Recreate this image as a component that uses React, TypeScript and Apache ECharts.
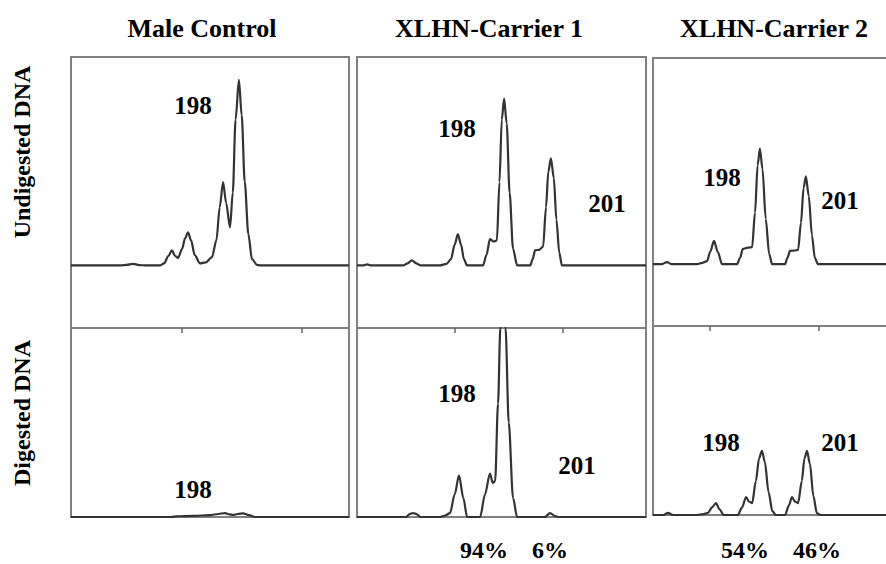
import React, { useEffect, useRef } from "react";
import * as echarts from "echarts";

// Column titles and row labels
const columnTitles = ["Male Control", "XLHN-Carrier 1", "XLHN-Carrier 2"];
const rowLabels = ["Undigested DNA", "Digested DNA"];

// Electropherogram traces: [scan position (0-100), signal (0-100 of panel height)]
const maleUndigested: number[][] = [
  [0, 0], [18, 0], [20, 0.3], [22.3, 0.8], [24.5, 0.2], [27, 0], [32, 0], [33.5, 1], [35, 4.5], [36.3, 7.2],
  [37.5, 4.5], [38.5, 3.6], [40, 8], [41, 13], [42.1, 15.9], [43.2, 12], [44.5, 5], [46.4, 1], [48.5, 1.5],
  [50.7, 4], [52.3, 12], [53.5, 28], [54.7, 40], [55.8, 30], [57.2, 18.3], [58.2, 35], [59.2, 70], [60.4, 89],
  [61.4, 72], [62.5, 40], [63.8, 15], [65.1, 3], [66.9, 0.3], [68, 0], [100, 0],
];
const carrier1Undigested: number[][] = [
  [0, 0], [2, 0], [3.5, 0.5], [5, 0], [16, 0], [17.5, 1], [19, 2.4], [20.5, 1], [22, 0], [28.7, 0], [31, 0.8],
  [32.5, 3], [33.8, 10], [34.9, 15], [36, 10], [37, 3], [38.1, 0], [43.6, 0], [44.8, 5], [46, 12.6], [47.3, 11.5],
  [48.4, 12], [49.3, 40], [50.1, 70], [50.9, 80], [51.8, 68], [52.8, 35], [54, 8], [55.4, 0], [59.9, 0], [60.8, 3],
  [61.6, 7.3], [63, 7.5], [64.4, 9], [65.4, 28], [66.2, 45], [67.1, 51.4], [68.1, 42], [69, 22], [70, 6], [70.9, 0],
  [100, 0],
];
const carrier2Undigested: number[][] = [
  [0, 0], [3, 0], [4.8, 1], [6.5, 0], [15.2, 0], [17, 0.6], [18.7, 1.5], [19.8, 6], [21.1, 11.3], [22.4, 6],
  [23.9, 0], [29.1, 0], [30.1, 3], [31.1, 7.4], [32.8, 8], [34.3, 8.3], [35.3, 25], [36.2, 48], [37, 56],
  [37.9, 46], [39, 22], [40.2, 5], [41.2, 0], [45.7, 0], [46.5, 3], [47.4, 6.4], [48.8, 6.6], [50.2, 6.9],
  [51.2, 20], [52.1, 37], [52.9, 42.6], [53.9, 33], [55, 14], [56, 3], [57.1, 0], [100, 0],
];
const maleDigested: number[][] = [
  [0, 0], [36, 0], [38, 0.4], [44, 0.6], [50, 1], [53, 1.6], [55.4, 2.1], [57, 1.4], [58.3, 1.1], [60, 1.6],
  [61.9, 1.9], [64, 1], [66.2, 0], [100, 0],
];
const carrier1Digested: number[][] = [
  [0, 0], [17, 0], [18.2, 1.5], [19.4, 2.1], [20.6, 1.5], [22, 0], [28.7, 0], [30.5, 0.8], [32.2, 2.1], [33.8, 12],
  [35.3, 22], [36.8, 10], [38.1, 0], [42.6, 0], [44.3, 12], [46, 23], [47, 18], [47.8, 19], [48.8, 60], [49.6, 100],
  [50.5, 110], [51.4, 100], [52.5, 50], [54, 10], [55.4, 0], [65, 0], [66.8, 2.1], [68.5, 0.5], [69.5, 0], [100, 0],
];
const carrier2Digested: number[][] = [
  [0, 0], [3.5, 0], [5.2, 1.1], [7, 0], [15.2, 0], [17.5, 0.5], [19, 1.1], [20.4, 4], [21.8, 6.3], [23, 3],
  [24.5, 0], [29.4, 0], [30.8, 4], [32.2, 9.5], [33.3, 7], [34.3, 6.3], [35.6, 18], [36.7, 30], [37.7, 34],
  [38.7, 28], [40, 12], [41.3, 2], [42.5, 0], [45.7, 0], [47, 5], [48.1, 9.5], [49.2, 7], [50.2, 6.3], [51.5, 18],
  [52.4, 30], [53.3, 34], [54.3, 27], [55.5, 10], [56.7, 1], [58, 0], [100, 0],
];

// Tick marks on the divider between rows (scan positions)
const dividerTicks = [[39.9, 83.1], [33.9, 71.3], [19.7, 57.4]];

// Peak size labels: [column, row, text]
const peakLabels: [number, number, string][] = [
  [0, 0, "198"], [1, 0, "198"], [1, 0, "201"], [2, 0, "198"], [2, 0, "201"],
  [0, 1, "198"], [1, 1, "198"], [1, 1, "201"], [2, 1, "198"], [2, 1, "201"],
];
const percentLabels = ["94%", "6%", "54%", "46%"];

const undigested = [maleUndigested, carrier1Undigested, carrier2Undigested];
const digested = [maleDigested, carrier1Digested, carrier2Digested];

export default function App() {
  const ref = useRef<HTMLDivElement>(null);
  useEffect(() => {
    if (!ref.current) return;
    const chart = echarts.init(ref.current, undefined, { renderer: "svg" });

    const cols = [
      { left: 71, width: 278, top: 57, split: 328, bottom: 517 },
      { left: 357, width: 289, top: 57, split: 328, bottom: 517 },
      { left: 653, width: 289, top: 58, split: 326, bottom: 515 },
    ];
    const border = "#808080";
    const font = "Liberation Serif, Times New Roman, serif";

    const grids: any[] = [];
    const xAxes: any[] = [];
    const yAxes: any[] = [];
    const series: any[] = [];

    cols.forEach((c) => {
      grids.push({ left: c.left, top: c.top, width: c.width, height: c.split - c.top, show: true, borderColor: border, borderWidth: 2 });
      grids.push({ left: c.left, top: c.split, width: c.width, height: c.bottom - c.split, show: true, borderColor: border, borderWidth: 2 });
    });

    grids.forEach((g, gi) => {
      const col = Math.floor(gi / 2);
      const isTop = gi % 2 === 0;
      xAxes.push({
        type: "value", gridIndex: gi, min: 0, max: 100, position: "bottom",
        axisLine: { show: false, onZero: false },
        axisLabel: { show: false },
        splitLine: { show: false },
        axisTick: isTop
          ? { show: true, customValues: dividerTicks[col], length: 5, inside: false, lineStyle: { color: "#666", width: 1.5 } }
          : { show: false },
      });
      yAxes.push({
        type: "value", gridIndex: gi, min: isTop ? -30 : 0, max: 100,
        show: false,
      });
      const data = isTop ? undigested[col] : digested[col];
      series.push({
        type: "line", xAxisIndex: gi, yAxisIndex: gi, data,
        showSymbol: false, smooth: 0.3, smoothMonotone: "x", clip: true,
        lineStyle: { color: "#333", width: 2.2 },
      });
    });

    const labelPos: [number, number][] = [
      [193, 105], [457, 128], [607, 203], [722, 177], [840, 200],
      [193, 489], [457, 393], [577, 465], [721, 442], [840, 442],
    ];
    const percentPos: [number, number][] = [[484, 550], [550, 550], [745, 550], [817, 550]];
    const titlePos: [number, number][] = [[202, 28], [489, 28], [774, 28]];

    const textStyle = (text: string, size: number) => ({
      text, fill: "#000", font: `bold ${size}px ${font}`, textAlign: "center", verticalAlign: "middle",
    });

    const graphic: any[] = [];
    columnTitles.forEach((t, i) => graphic.push({ type: "text", x: titlePos[i][0], y: titlePos[i][1], style: textStyle(t, 26) }));
    graphic.push({ type: "text", x: 22, y: 152, rotation: Math.PI / 2, style: textStyle(rowLabels[0], 24) });
    graphic.push({ type: "text", x: 22, y: 413, rotation: Math.PI / 2, style: textStyle(rowLabels[1], 24) });
    peakLabels.forEach((p, i) => graphic.push({ type: "text", x: labelPos[i][0], y: labelPos[i][1], style: textStyle(p[2], 25) }));
    percentLabels.forEach((t, i) => graphic.push({ type: "text", x: percentPos[i][0], y: percentPos[i][1], style: textStyle(t, 24) }));

    chart.setOption({
      animation: false,
      backgroundColor: "#fff",
      grid: grids,
      xAxis: xAxes,
      yAxis: yAxes,
      series,
      graphic,
    });
    return () => chart.dispose();
  }, []);

  return <div ref={ref} style={{ position: "fixed", left: 0, top: 0, width: 960, height: 564, background: "#fff" }} />;
}
